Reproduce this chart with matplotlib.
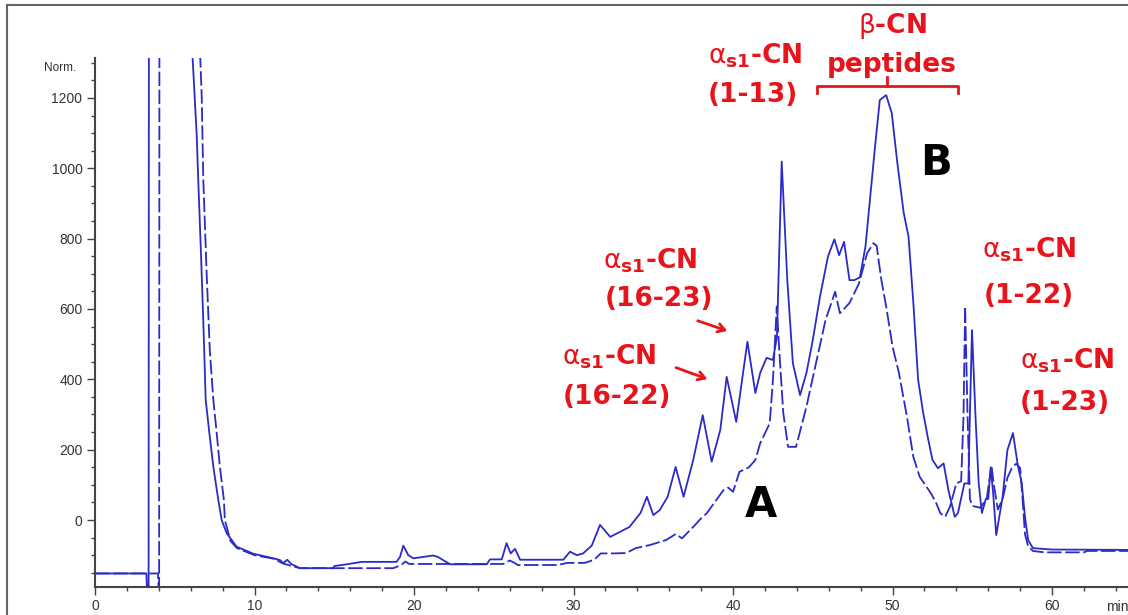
"""HPLC chromatogram of casein hydrolysates, traces A (dashed) and B (solid)."""

import matplotlib

matplotlib.use("Agg")
import matplotlib.pyplot as plt
from matplotlib.lines import Line2D
from matplotlib.ticker import MultipleLocator

plt.rcParams["mathtext.fontset"] = "dejavusans"

# trace B (solid); 1500 marks the off-scale solvent front
solid_t = [0, 3.22, 3.25, 3.36, 3.38, 6.1, 6.12, 6.37, 6.48, 6.65, 6.8, 6.94,
           7.17, 7.42, 7.73, 7.94, 8.26, 8.88, 9.93, 11.18, 11.6, 11.8, 12.05,
           12.3, 12.85, 14.94, 15.0, 15.78, 16.72, 18.9, 19.12, 19.33, 19.64,
           19.96, 21.2, 21.5, 22.26, 24.56, 24.76, 25.5, 25.8, 26.06, 26.33,
           26.65, 29.36, 29.78, 30.2, 30.6, 31.14, 31.66, 32.3, 32.9, 33.5,
           34.2, 34.6, 35.0, 35.4, 35.9, 36.4, 36.9, 37.5, 38.1, 38.66, 39.2,
           39.6, 40.2, 40.9, 41.4, 41.7, 42.1, 42.5, 42.75, 43.05, 43.4, 43.75,
           44.2, 44.6, 45.0, 45.45, 45.95, 46.35, 46.65, 46.96, 47.3, 47.6,
           47.95, 48.3, 48.6, 48.9, 49.2, 49.6, 49.95, 50.3, 50.7, 51.0, 51.3,
           51.6, 51.9, 52.2, 52.5, 52.85, 53.2, 53.5, 53.7, 53.9, 54.1, 54.5,
           54.75, 54.85, 54.98, 55.2, 55.4, 55.6, 55.85, 56.0, 56.15, 56.3,
           56.5, 56.9, 57.2, 57.55, 57.85, 58.1, 58.3, 58.5, 58.8, 60.0, 64.8]
solid_v = [-152, -152, -190, -190, 1500, 1500, 1313, 1100, 958, 750, 550, 341,
           247, 151, 57, 0, -38, -76, -96, -109, -114, -123, -113,
           -125, -137, -137, -131, -126, -119, -119, -105, -73, -100,
           -109, -101, -105, -126, -126, -112, -112, -66, -95, -82,
           -113, -113, -90, -100, -95, -73, -14, -48, -34, -20,
           20, 66, 14, 28, 66, 151, 66, 170, 298, 166, 256,
           407, 279, 507, 361, 418, 461, 455, 520, 1019, 682, 446,
           355, 418, 512, 635, 749, 798, 753, 791, 682, 682,
           690, 777, 919, 1061, 1194, 1208, 1157, 1015, 873, 806, 620,
           400, 310, 237, 171, 147, 161, 85, 47, 9, 20, 104,
           104, 300, 540, 294, 104, 20, 60, 60, 150, 80,
           -43, 66, 199, 247, 156, 104, 9, -57, -80, -84, -85]

# trace A (dashed)
dashed_t = [0, 3.95, 3.98, 4.02, 4.04, 6.55, 6.6, 6.69, 6.79, 7.0, 7.2, 7.42,
            7.63, 7.83, 8.08, 8.14, 8.5, 8.9, 10.0, 11.2, 11.8, 12.85, 18.7,
            19.2, 19.45, 19.7, 25.6, 26.0, 26.3, 26.5, 29.0, 29.6, 30.7, 31.3,
            31.7, 32.5, 33.3, 33.9, 34.8, 35.8, 36.4, 36.8, 37.5, 38.0, 38.35,
            39.0, 39.4, 39.7, 40.0, 40.4, 41.0, 41.4, 41.7, 42.1, 42.3, 42.5,
            42.74, 42.9, 43.15, 43.45, 43.95, 44.6, 45.2, 45.8, 46.4, 46.7,
            47.3, 47.9, 48.4, 48.8, 49.0, 49.3, 49.6, 50.0, 50.4, 50.9, 51.3,
            51.7, 52.4, 52.7, 53.0, 53.3, 53.6, 54.0, 54.3, 54.45, 54.55, 54.7,
            54.85, 55.0, 55.5, 55.9, 56.2, 56.35, 56.6, 56.9, 57.2, 57.5, 57.75,
            58.0, 58.15, 58.3, 58.5, 58.8, 59.5, 62.0, 62.2, 64.8]
dashed_v = [-152, -152, -190, -190, 1500, 1500, 1313, 1204, 967, 700, 480, 341,
            247, 151, 57, 0, -60, -80, -100, -110, -124, -137, -137,
            -128, -118, -125, -125, -115, -122, -128, -128, -122, -122, -113,
            -95, -95, -94, -80, -71, -57, -40, -52, -20, 5, 19,
            60, 85, 92, 80, 137, 150, 171, 218, 256, 275, 398,
            607, 480, 304, 208, 208, 322, 446, 569, 649, 588,
            617, 673, 758, 787, 780, 682, 607, 493, 418, 294, 180,
            123, 76, 52, 19, 9, 38, 104, 110, 300, 607, 300,
            60, 40, 35, 60, 155, 100, 30, 60, 120, 150, 160,
            148, 60, -40, -75, -88, -92, -92, -88, -88]

x_ticks = [0, 10, 20, 30, 40, 50, 60]
y_ticks = [0, 200, 400, 600, 800, 1000, 1200]

ALPHA = r"$\mathrm{\alpha}_{\mathbf{s1}}$-CN"
peak_labels = ["(1-13)", "(16-22)", "(16-23)", "(1-22)", "(1-23)"]

LINE = "#2b2bc8"
RED = "#e8141c"
INK = "#333333"

fig = plt.figure(figsize=(11.28, 6.15), dpi=100)
ax = fig.add_axes([95 / 1128, 28 / 615, 1033 / 1128, 529 / 615])

ax.plot(solid_t, solid_v, color=LINE, lw=1.3)
ax.plot(dashed_t, dashed_v, color=LINE, lw=1.3, linestyle=(0, (8, 2)))

ax.set_xlim(0, 64.76)
ax.set_ylim(-190.5, 1313.6)
ax.set_xticks(x_ticks)
ax.set_yticks(y_ticks)
ax.xaxis.set_minor_locator(MultipleLocator(2))
ax.yaxis.set_minor_locator(MultipleLocator(50))
for side in ("top", "right"):
    ax.spines[side].set_visible(False)
for side in ("left", "bottom"):
    ax.spines[side].set_color("#444444")
    ax.spines[side].set_linewidth(1.5)
ax.tick_params(which="major", length=6, width=1, color="#444444", pad=3,
               labelsize=10, labelcolor=INK)
ax.tick_params(which="minor", length=3, width=1, color="#444444")
for lbl in ax.get_xticklabels() + ax.get_yticklabels():
    lbl.set_fontfamily("Liberation Sans")

ax.text(63.4, -0.024, "min", transform=ax.get_xaxis_transform(), ha="left",
        va="top", fontsize=10, color=INK, family="Liberation Sans")
fig.text(60 / 1128, 1 - 68 / 615, "Norm.", ha="center", va="center",
         fontsize=8.5, color=INK, family="Liberation Sans")

# peak labels: (name line x, y), (range line x, y)
label_pos = [((38.43, 1298), (38.43, 1189)),
             ((29.26, 443), (29.35, 331)),
             ((31.87, 715), (31.97, 609)),
             ((55.6, 747), (55.7, 616)),
             ((58.0, 432), (58.0, 313))]
text_kw = dict(color=RED, fontsize=19, fontweight="bold", family="DejaVu Sans",
               va="baseline")
for (p1, p2), rng in zip(label_pos, peak_labels):
    ax.text(p1[0], p1[1], ALPHA, ha="left", **text_kw)
    ax.text(p2[0], p2[1], rng, ha="left", **text_kw)

ax.text(49.97, 1384, r"$\mathrm{\beta}$-CN", ha="center", **text_kw)
ax.text(49.97, 1275, "peptides", ha="center", **text_kw)
ax.plot([45.27, 45.27, 54.1, 54.1], [1214, 1234, 1234, 1214], color=RED,
        lw=2, clip_on=False)
ax.plot([49.66, 49.66], [1234, 1260], color=RED, lw=2, clip_on=False)

arrow_kw = dict(arrowstyle="->,head_length=0.5,head_width=0.3", color=RED, lw=2)
ax.annotate("", xy=(39.81, 535), xytext=(37.62, 569), arrowprops=arrow_kw)
ax.annotate("", xy=(38.56, 398), xytext=(36.26, 436), arrowprops=arrow_kw)

ax.text(52.7, 981, "B", ha="center", va="baseline", fontsize=30,
        fontweight="bold", color="black", family="DejaVu Sans")
ax.text(41.75, 9.5, "A", ha="center", va="baseline", fontsize=30,
        fontweight="bold", color="black", family="DejaVu Sans")

# outer frame of the original screenshot
fx = 7 / 1128
fy = 1 - 5 / 615
fig.add_artist(Line2D([fx, fx], [0, fy], color="#666666", lw=1.5))
fig.add_artist(Line2D([fx, 1], [fy, fy], color="#666666", lw=1.5))

fig.savefig("out.png", dpi=100)
